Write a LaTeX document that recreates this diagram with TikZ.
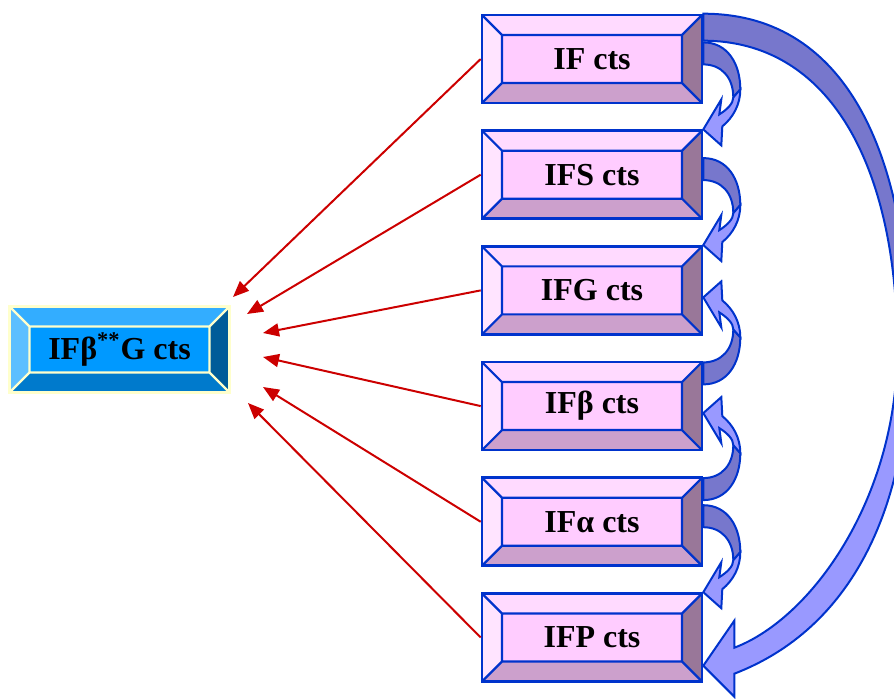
\documentclass[tikz,border=0pt]{standalone}
\usepackage{fontspec}
\setmainfont{Liberation Serif}
\usetikzlibrary{calc,arrows.meta}

\definecolor{pinkface}{HTML}{FFCCFF}
\definecolor{pinktop}{HTML}{FFDAFF}
\definecolor{pinkleft}{HTML}{FFE4FF}
\definecolor{pinkright}{HTML}{997799}
\definecolor{pinkbottom}{HTML}{CCA0CC}
\definecolor{pinkedge}{HTML}{0033CC}
\definecolor{blueface}{HTML}{0099FF}
\definecolor{bluetop}{HTML}{33ADFF}
\definecolor{blueleft}{HTML}{5CBFFF}
\definecolor{blueright}{HTML}{005C99}
\definecolor{bluebottom}{HTML}{007ACC}
\definecolor{blueedge}{HTML}{FFFFCC}
\definecolor{linkred}{HTML}{CC0000}
\definecolor{bandback}{HTML}{7777CC}
\definecolor{bandfront}{HTML}{9999FF}

% bevelled faces of a box: top, left, right, bottom fills, edge colour, bevel depth
\newcommand\bevelfaces[6]{%
  \coordinate (bvA) at (path picture bounding box.north west);
  \coordinate (bvB) at (path picture bounding box.north east);
  \coordinate (bvC) at (path picture bounding box.south east);
  \coordinate (bvD) at (path picture bounding box.south west);
  \coordinate (bva) at ($(bvA)+(#6,#6)$);
  \coordinate (bvb) at ($(bvB)+(-#6,#6)$);
  \coordinate (bvc) at ($(bvC)+(-#6,-#6)$);
  \coordinate (bvd) at ($(bvD)+(#6,-#6)$);
  \fill[#1] (bvA) -- (bvB) -- (bvb) -- (bva) -- cycle;
  \fill[#2] (bvA) -- (bva) -- (bvd) -- (bvD) -- cycle;
  \fill[#3] (bvB) -- (bvC) -- (bvc) -- (bvb) -- cycle;
  \fill[#4] (bvD) -- (bvd) -- (bvc) -- (bvC) -- cycle;
  \draw[#5, line width=1.1pt, line join=miter]
    (bva) rectangle (bvc) (bvA) -- (bva) (bvB) -- (bvb) (bvC) -- (bvc) (bvD) -- (bvd);
}

\tikzset{
  boxtext/.style={font=\bfseries\fontsize{16}{18}\selectfont, text=black, inner sep=0pt},
  pinkbox/.style={boxtext, draw=pinkedge, line width=1.3pt, fill=pinkface,
    minimum width=110pt, minimum height=44pt,
    path picture={\bevelfaces{pinktop}{pinkleft}{pinkright}{pinkbottom}{pinkedge}{20}}},
  bluebox/.style={boxtext, draw=blueedge, line width=1.1pt, fill=blueface,
    minimum width=110pt, minimum height=43pt,
    path picture={\bevelfaces{bluetop}{blueleft}{blueright}{bluebottom}{blueedge}{20}}},
  redlink/.style={draw=linkred, line width=1pt, -{Triangle[length=8pt,width=6.5pt]}},
  bandline/.style={draw=pinkedge, line width=1pt, line join=miter},
  downcurve/.pic={
    \filldraw[bandline, fill=bandback]
      (0,-87) .. controls (24,-87) and (37,-66) .. (37,-40) -- (30,-32)
      .. controls (30,-52) and (18,-65) .. (0,-65) -- cycle;
    \filldraw[bandline, fill=bandfront]
      (37,-40) .. controls (37,-25) and (30,-12) .. (19,-3) -- (18,16) -- (0,0)
      -- (18,-30) -- (16,-15) .. controls (24,-20) and (30,-26) .. (30,-32) -- cycle;
  }
}

\begin{document}
\begin{tikzpicture}[x=0.5pt, y=-0.5pt]
  \useasboundingbox (0,0) rectangle (894,699);
  \clip (0,0) rectangle (894,699);

  % the six source boxes
  \node[pinkbox] (b1) at (592,59.0)  {IF cts};
  \node[pinkbox] (b2) at (592,174.7) {IFS cts};
  \node[pinkbox] (b3) at (592,290.4) {IFG cts};
  \node[pinkbox] (b4) at (592,406.1) {IFβ cts};
  \node[pinkbox] (b5) at (592,521.8) {IFα cts};
  \node[pinkbox] (b6) at (592,637.5) {IFP cts};

  % the target box
  \node[bluebox] (tg) at (119.5,349.5) {IFβ\textsuperscript{**}G cts};

  % arrow tips gathered round the target box
  \coordinate (t1) at (233,297);
  \coordinate (t2) at (247,314);
  \coordinate (t3) at (263,333);
  \coordinate (t4) at (263,357);
  \coordinate (t5) at (263,387);
  \coordinate (t6) at (248,403);

  \draw[redlink] (b1.west) -- (t1);
  \draw[redlink] (b2.west) -- (t2);
  \draw[redlink] (b3.west) -- (t3);
  \draw[redlink] (b4.west) -- (t4);
  \draw[redlink] (b5.west) -- (t5);
  \draw[redlink] (b6.west) -- (t6);

  % curved arrows between neighbouring boxes
  \pic at (b2.north east) {downcurve};
  \pic at (b3.north east) {downcurve};
  \pic[yscale=-1] at ($(b3.east)+(0,7)$) {downcurve};
  \pic[yscale=-1] at ($(b4.east)+(0,7)$) {downcurve};
  \pic at (b6.north east) {downcurve};

  % long curved arrow from the first box to the last one
  \begin{scope}[shift={(b1.north east)}]
    \filldraw[bandline, fill=bandback]
      (0,0) .. controls (148,0) and (206,150) .. (206,335) -- (194,335)
      .. controls (194,155) and (128,27) .. (0,27) -- cycle;
    \filldraw[bandline, fill=bandfront]
      (206,335) .. controls (206,495) and (148,615) .. (31,660) -- (31,683) -- (0,652)
      -- (31,607) -- (31,634) .. controls (108,605) and (194,485) .. (194,335) -- cycle;
  \end{scope}
\end{tikzpicture}
\end{document}
